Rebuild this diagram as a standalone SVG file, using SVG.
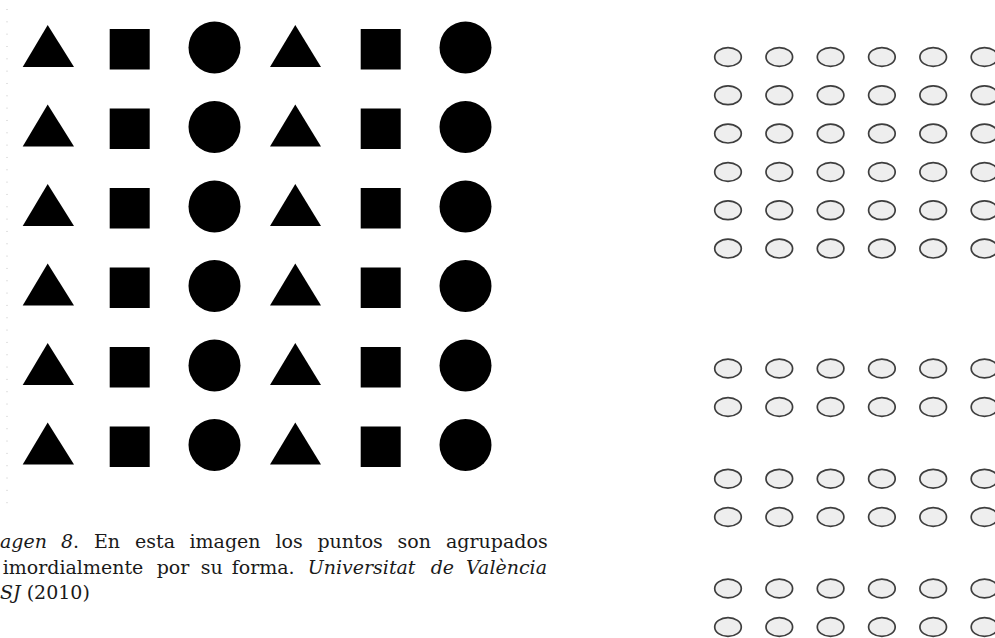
<svg xmlns="http://www.w3.org/2000/svg" xmlns:xlink="http://www.w3.org/1999/xlink" width="995" height="638" viewBox="0 0 995 638">
<style>
.shape{fill:#000}
.dot{fill:#eeeeee;stroke:#3e3e3e;stroke-width:1.7}
.cap{font-family:"DejaVu Serif","Liberation Serif",serif;font-size:19px;fill:#1a1a1a}
.it{font-style:italic}
</style>
<defs>
<g id="shapeRow">
<polygon class="shape" points="47.7,25 74,67 22.7,67"/>
<rect class="shape" x="109.7" y="29" width="40" height="40.5"/>
<circle class="shape" cx="214.5" cy="47.4" r="26"/>
<polygon class="shape" points="295.3,25 321,67 270,67"/>
<rect class="shape" x="360.7" y="29" width="40" height="40.5"/>
<circle class="shape" cx="465.5" cy="47.4" r="26"/>
</g>
<ellipse id="dot" class="dot" cx="0" cy="0" rx="13.3" ry="9.4"/>
<g id="dotRow">
<use xlink:href="#dot" x="728" y="0"/>
<use xlink:href="#dot" x="779.3" y="0"/>
<use xlink:href="#dot" x="830.6" y="0"/>
<use xlink:href="#dot" x="881.9" y="0"/>
<use xlink:href="#dot" x="933.2" y="0"/>
<use xlink:href="#dot" x="984.5" y="0"/>
</g>
</defs>
<rect width="995" height="638" fill="#ffffff"/>
<line x1="7" y1="9" x2="7" y2="504" stroke="#c4c4c4" stroke-width="1" stroke-dasharray="1 11.33"/>
<g id="shapes-grid">
<use id="shape-row-1" xlink:href="#shapeRow" y="0"/>
<use id="shape-row-2" xlink:href="#shapeRow" y="79.5"/>
<use id="shape-row-3" xlink:href="#shapeRow" y="159"/>
<use id="shape-row-4" xlink:href="#shapeRow" y="238.5"/>
<use id="shape-row-5" xlink:href="#shapeRow" y="318"/>
<use id="shape-row-6" xlink:href="#shapeRow" y="397.5"/>
</g>
<g id="dots-grid">
<use id="dot-row-1" xlink:href="#dotRow" y="57"/>
<use id="dot-row-2" xlink:href="#dotRow" y="95.3"/>
<use id="dot-row-3" xlink:href="#dotRow" y="133.6"/>
<use id="dot-row-4" xlink:href="#dotRow" y="172"/>
<use id="dot-row-5" xlink:href="#dotRow" y="210.3"/>
<use id="dot-row-6" xlink:href="#dotRow" y="248.6"/>
<use id="dot-row-7" xlink:href="#dotRow" y="368.5"/>
<use id="dot-row-8" xlink:href="#dotRow" y="407"/>
<use id="dot-row-9" xlink:href="#dotRow" y="478.7"/>
<use id="dot-row-10" xlink:href="#dotRow" y="517"/>
<use id="dot-row-11" xlink:href="#dotRow" y="588.5"/>
<use id="dot-row-12" xlink:href="#dotRow" y="627"/>
</g>
<g id="caption">
<text class="cap" y="548"><tspan class="it" x="0">agen</tspan><tspan class="it" x="61">8</tspan><tspan>.</tspan><tspan x="94">En</tspan><tspan x="135">esta</tspan><tspan x="189.5">imagen</tspan><tspan x="275.4">los</tspan><tspan x="317.4">puntos</tspan><tspan x="397.6">son</tspan></text>
<text class="cap" x="547.7" y="548" text-anchor="end">agrupados</text>
<text class="cap" y="573.5"><tspan x="2.7">imordialmente</tspan><tspan x="156.7">por</tspan><tspan x="200.7">su</tspan><tspan x="231.7">forma.</tspan><tspan class="it" x="307.7">Universitat</tspan><tspan class="it" x="430.7">de</tspan></text>
<text class="cap it" x="547" y="573.5" text-anchor="end">València</text>
<text class="cap" x="0" y="599"><tspan class="it">SJ</tspan> (2010)</text>
</g>
</svg>
